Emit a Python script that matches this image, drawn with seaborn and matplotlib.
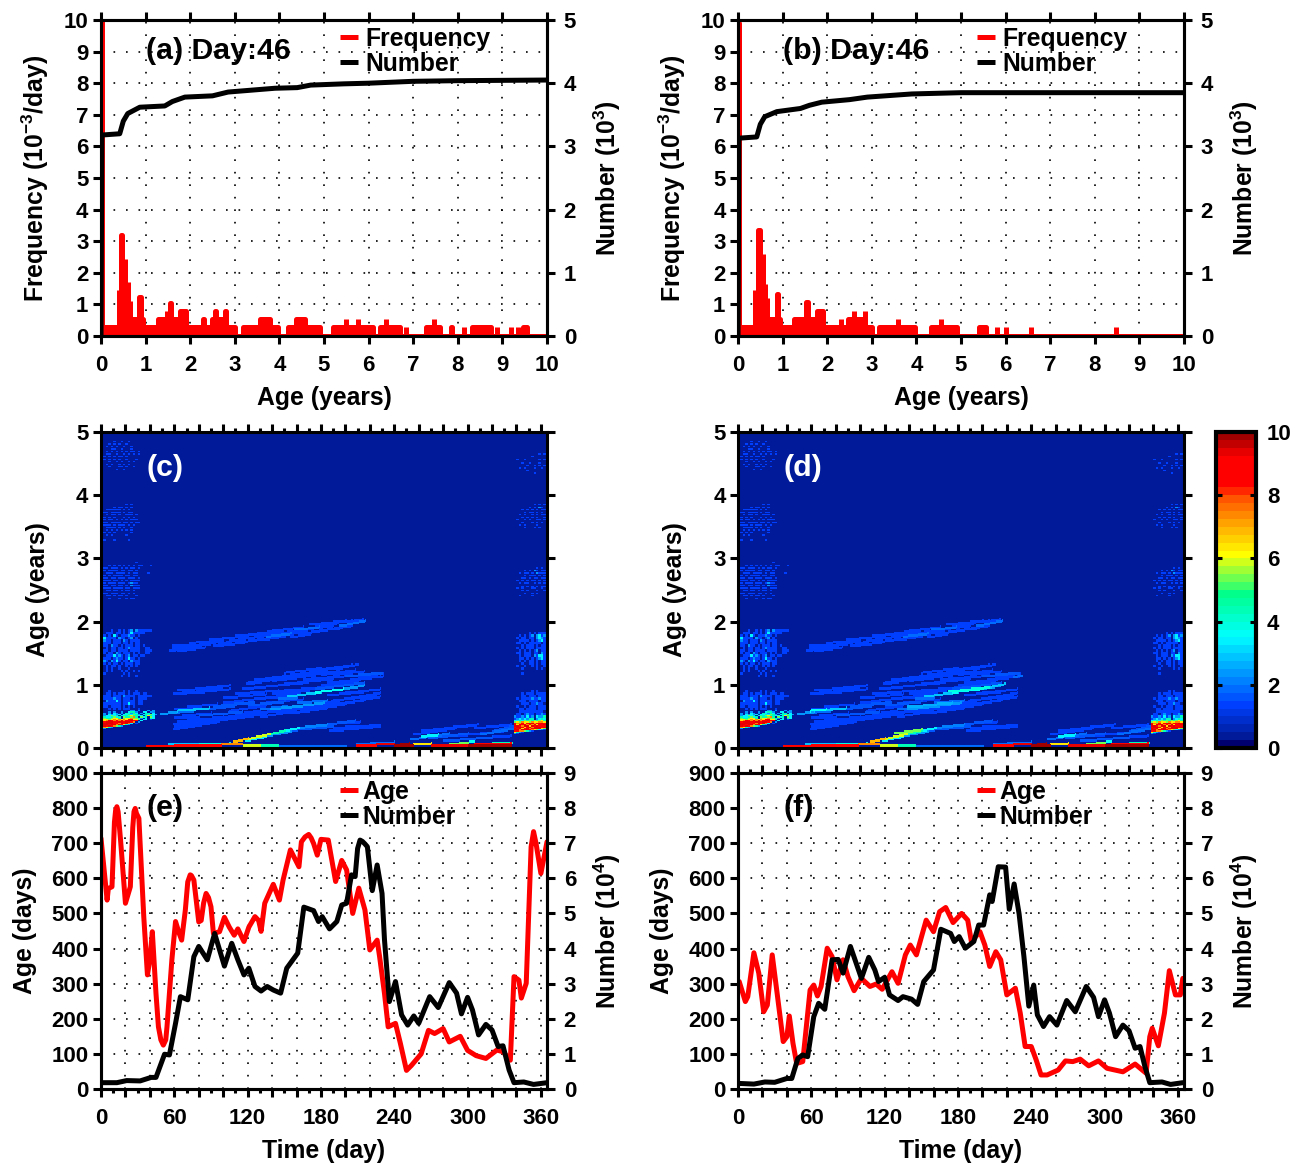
import numpy as np
import seaborn as sns
from matplotlib import pyplot as plt
from matplotlib.colors import LinearSegmentedColormap
from matplotlib.lines import Line2D

W, H = 1301, 1163

# (a)/(b) age spectrum: runs of (first age, last age, frequency)
freq_runs_a = [
    (0, 10, 0), (0, 0.02, 10.5), (0.05, 3.0, 0.27), (0.41, 0.41, 1.45), (0.44, 0.47, 3.2), (0.54, 0.54, 2.45),
    (0.6, 0.6, 1.7), (0.65, 0.65, 1.1), (0.65, 0.95, 0.54), (0.85, 0.9, 1.25),
    (1.27, 1.9, 0.54), (1.47, 1.47, 0.8), (1.55, 1.58, 1.03),
    (1.78, 1.9, 0.8), (2.28, 2.3, 0.54), (2.48, 2.8, 0.54),
    (2.55, 2.58, 0.8), (2.78, 2.8, 0.8), (3.18, 3.97, 0.27),
    (3.57, 3.78, 0.54), (4.2, 4.9, 0.27), (4.38, 4.58, 0.54),
    (5.2, 6.09, 0.27), (5.5, 5.5, 0.54), (5.76, 5.76, 0.54),
    (6.25, 6.7, 0.27), (6.4, 6.4, 0.54), (6.83, 6.83, 0.27), (7.28, 7.6, 0.27),
    (7.47, 7.47, 0.54), (7.85, 7.88, 0.27), (8.15, 8.15, 0.27), (8.32, 8.75, 0.27),
    (8.88, 8.88, 0.27), (9.2, 9.2, 0.27), (9.34, 9.34, 0.27), (9.47, 9.55, 0.27),
]
freq_runs_b = [
    (0, 10, 0), (0, 0.02, 9.9), (0.04, 3.0, 0.27), (0.38, 0.38, 1.45), (0.44, 0.5, 3.35), (0.55, 0.55, 2.6),
    (0.6, 0.6, 1.65), (0.65, 0.65, 1.2), (0.6, 0.95, 0.54), (0.87, 0.9, 1.33),
    (1.25, 1.9, 0.54), (1.52, 1.57, 1.07), (1.78, 1.9, 0.8),
    (2.3, 2.3, 0.54), (2.47, 2.85, 0.54), (2.6, 2.6, 0.8),
    (2.85, 2.85, 0.8), (3.17, 3.97, 0.27), (3.58, 3.58, 0.54),
    (4.32, 4.9, 0.27), (4.56, 4.56, 0.54), (5.4, 5.55, 0.27),
    (5.8, 5.8, 0.27), (6.0, 6.0, 0.27), (6.58, 6.58, 0.27), (8.47, 8.47, 0.27),
]

# (a)/(b) number curves, in 10^3
num_age_a = [0, 0.02, 0.42, 0.5, 0.6, 0.87, 1.43, 1.6, 1.88, 2.5, 2.85, 3.9, 4.4, 4.7, 5.45, 6, 7, 8, 10]
num_val_a = [0, 3.18, 3.2, 3.4, 3.52, 3.62, 3.64, 3.71, 3.78, 3.8, 3.86, 3.92, 3.93, 3.97, 3.99, 4.0, 4.03, 4.04, 4.05]
num_age_b = [0, 0.02, 0.42, 0.5, 0.6, 0.87, 1.4, 1.6, 1.88, 2.5, 2.9, 3.9, 5, 6, 10]
num_val_b = [0, 3.13, 3.15, 3.35, 3.47, 3.55, 3.6, 3.65, 3.7, 3.74, 3.78, 3.83, 3.85, 3.85, 3.85]

# (e) mean age and number against day of year
age_day_e = [0, 5, 6, 9, 11, 12, 13, 14, 16, 20, 24, 26, 27, 28, 29, 31, 35, 38, 40, 42, 45, 47, 49, 51, 53, 54, 58,
             61, 64, 66, 69, 71, 73, 74, 76, 80, 82, 84, 86, 88, 90, 92, 97, 101, 105, 109, 112, 117, 121, 126, 129,
             131, 134, 141, 146, 149, 155, 162, 164, 167, 170, 172, 174, 177, 180, 186, 192, 197, 201, 206, 211,
             216, 220, 226, 228, 232, 235, 241, 245, 250, 254, 262, 268, 273, 280, 285, 294, 300, 307, 315, 324,
             329, 335, 338, 342, 344, 348, 352, 354, 356, 360, 365]
age_val_e = [714, 538, 571, 576, 760, 795, 804, 790, 709, 529, 576, 745, 790, 799, 785, 771, 491, 325, 368, 448, 272,
             177, 140, 125, 140, 177, 368, 477, 443, 424, 509, 590, 610, 608, 595, 476, 480, 530, 557, 545, 519,
             443, 448, 489, 461, 438, 456, 420, 461, 491, 480, 449, 529, 583, 538, 595, 681, 633, 704, 718, 725,
             715, 699, 666, 711, 709, 591, 651, 624, 500, 572, 510, 396, 424, 377, 272, 177, 187, 130, 53, 67, 100,
             167, 158, 172, 134, 150, 110, 95, 87, 111, 106, 82, 320, 310, 259, 301, 690, 733, 700, 614, 704]
num_day_e = [0, 13, 21, 32, 41, 45, 52, 56, 61, 65, 71, 76, 80, 87, 93, 101, 107, 112, 117, 121, 126, 131, 136,
             141, 147, 152, 161, 166, 174, 178, 181, 187, 193, 197, 201, 205, 208, 210, 212, 214, 216, 218, 222,
             226, 230, 232, 236, 241, 246, 251, 256, 260, 269, 276, 285, 291, 295, 300, 304, 309, 315, 320, 325,
             329, 334, 338, 346, 354, 365]
num_val_e = [0.18, 0.18, 0.24, 0.23, 0.33, 0.33, 0.99, 0.97, 1.87, 2.63, 2.54, 3.77, 4.06, 3.68, 4.43, 3.5, 4.15,
             3.68, 3.25, 3.44, 2.92, 2.79, 2.92, 2.82, 2.73, 3.44, 3.87, 5.18, 5.08, 4.77, 4.91, 4.56, 4.77, 5.24,
             5.29, 6.1, 6.05, 6.85, 7.09, 7.05, 6.98, 6.9, 5.65, 6.38, 5.57, 4.25, 2.49, 3.06, 2.11, 1.82, 2.08,
             1.87, 2.63, 2.32, 3.03, 2.73, 2.14, 2.61, 2.25, 1.54, 1.84, 1.68, 1.21, 1.23, 0.54, 0.18, 0.2, 0.13,
             0.18]

# (f)
age_day_f = [1, 6, 8, 13, 17, 21, 24, 28, 32, 37, 40, 42, 45, 48, 53, 59, 62, 65, 68, 73, 77, 81, 86, 90, 95, 101,
             108, 113, 118, 126, 131, 137, 141, 146, 154, 160, 165, 170, 176, 183, 188, 191, 198, 202, 206, 211,
             215, 220, 227, 231, 235, 240, 244, 248, 253, 262, 268, 274, 280, 287, 295, 302, 315, 325, 334, 337,
             339, 344, 349, 353, 358, 362, 364]
age_val_f = [306, 249, 263, 388, 330, 220, 239, 382, 273, 135, 149, 208, 130, 73, 78, 282, 296, 265, 292, 401, 377,
             311, 368, 320, 280, 315, 292, 299, 284, 334, 301, 382, 410, 382, 481, 448, 505, 517, 474, 500, 481,
             420, 448, 410, 349, 391, 368, 268, 287, 216, 121, 121, 83, 40, 40, 54, 80, 78, 85, 66, 80, 59, 49,
             71, 45, 149, 173, 123, 216, 337, 268, 268, 315]
num_day_f = [0, 13, 22, 30, 40, 44, 49, 53, 57, 62, 66, 71, 77, 82, 86, 92, 101, 107, 112, 115, 120, 124, 131, 135,
             142, 147, 152, 160, 166, 174, 177, 181, 186, 193, 197, 201, 206, 208, 213, 219, 222, 226, 230, 234,
             238, 242, 245, 250, 255, 261, 269, 276, 285, 291, 295, 300, 304, 309, 315, 320, 325, 329, 333, 337,
             347, 354, 364]
num_val_f = [0.16, 0.14, 0.2, 0.19, 0.3, 0.3, 0.87, 0.97, 0.92, 2.06, 2.44, 2.27, 3.68, 3.69, 3.3, 4.06, 3.15, 3.75,
             3.39, 3.06, 3.18, 2.68, 2.52, 2.63, 2.56, 2.41, 3.06, 3.39, 4.55, 4.43, 4.2, 4.34, 4.01, 4.2, 4.67,
             4.67, 5.53, 5.34, 6.33, 6.32, 5.12, 5.84, 5.0, 3.77, 2.36, 2.96, 2.11, 1.78, 2.06, 1.82, 2.52, 2.2,
             2.92, 2.61, 2.06, 2.54, 2.16, 1.49, 1.82, 1.66, 1.16, 1.21, 0.64, 0.18, 0.2, 0.13, 0.18]

# (c)/(d) heat map, streaks: (day0, age0, day1, age1, level)
streaks_high = [
    (56, 1.52, 70, 1.58, 1), (58, 1.60, 75, 1.62, 1), (66, 1.56, 82, 1.60, 1), (72, 1.65, 88, 1.68, 1),
    (80, 1.62, 100, 1.68, 1), (88, 1.70, 110, 1.74, 1), (96, 1.64, 112, 1.70, 1), (105, 1.68, 125, 1.74, 1),
    (110, 1.76, 130, 1.80, 1), (118, 1.72, 140, 1.78, 1), (128, 1.80, 150, 1.86, 1), (135, 1.75, 155, 1.80, 1.5),
    (140, 1.84, 165, 1.90, 1), (150, 1.78, 168, 1.83, 1), (158, 1.86, 178, 1.90, 1.5), (165, 1.80, 178, 1.84, 1),
    (175, 1.90, 192, 1.95, 1), (170, 1.94, 200, 2.00, 1), (185, 1.86, 195, 1.88, 1), (195, 1.92, 216, 2.0, 1.5),
    (200, 1.98, 214, 2.02, 1), (58, 1.56, 78, 1.60, 1), (62, 1.52, 85, 1.58, 1), (70, 1.6, 90, 1.64, 1),
    (82, 1.66, 100, 1.70, 1), (92, 1.60, 118, 1.66, 1), (100, 1.72, 120, 1.76, 1), (112, 1.66, 135, 1.72, 1),
    (125, 1.76, 145, 1.82, 1), (130, 1.70, 150, 1.75, 1), (145, 1.80, 165, 1.86, 1), (155, 1.74, 172, 1.80, 1),
    (165, 1.86, 190, 1.92, 1), (172, 1.82, 192, 1.88, 1), (180, 1.95, 205, 2.0, 1), (190, 1.88, 205, 1.92, 1),
]
streaks_mid = [
    (59, 0.84, 80, 0.88, 1), (62, 0.90, 90, 0.94, 1), (75, 0.86, 105, 0.92, 1), (85, 0.94, 105, 0.98, 1),
    (119, 1.0, 150, 1.10, 1), (125, 1.06, 160, 1.14, 1), (140, 1.05, 175, 1.14, 1), (150, 1.18, 180, 1.25, 1),
    (160, 1.12, 195, 1.21, 1), (170, 1.20, 205, 1.30, 1), (180, 1.15, 208, 1.22, 1), (195, 1.25, 210, 1.31, 1),
    (115, 0.92, 150, 0.99, 1), (130, 0.95, 165, 1.02, 1), (150, 1.0, 190, 1.08, 1), (165, 1.07, 205, 1.13, 1),
    (185, 1.02, 231, 1.12, 1), (200, 1.12, 230, 1.18, 1.2), (205, 1.07, 228, 1.12, 1), (100, 0.78, 135, 0.84, 1),
    (110, 0.84, 145, 0.90, 1), (140, 0.84, 170, 0.89, 1), (150, 0.90, 190, 0.96, 1), (175, 0.92, 215, 1.02, 1.3),
    (145, 0.76, 160, 0.78, 1.5), (152, 0.80, 180, 0.87, 2.5), (175, 0.87, 198, 0.92, 3.2), (198, 0.92, 215, 0.98, 2),
    (200, 0.86, 228, 0.92, 1), (185, 0.82, 215, 0.88, 1), (59, 0.55, 75, 0.58, 1.5), (48, 0.52, 62, 0.56, 2),
    (62, 0.58, 78, 0.60, 2.5), (75, 0.60, 88, 0.62, 2.5), (85, 0.60, 110, 0.66, 1.2), (92, 0.65, 125, 0.71, 1.2),
    (105, 0.58, 135, 0.66, 1), (120, 0.66, 150, 0.72, 1.2), (135, 0.70, 165, 0.76, 1), (130, 0.60, 152, 0.65, 1.5),
    (138, 0.60, 182, 0.70, 2), (160, 0.70, 185, 0.74, 1.5), (165, 0.62, 190, 0.68, 1), (190, 0.74, 225, 0.82, 1),
    (59, 0.28, 95, 0.40, 1), (59, 0.36, 90, 0.42, 1), (70, 0.42, 100, 0.48, 1), (60, 0.46, 80, 0.48, 1),
    (90, 0.40, 125, 0.50, 1), (95, 0.46, 130, 0.54, 1), (80, 0.50, 115, 0.56, 1.2), (120, 0.52, 160, 0.62, 1),
    (125, 0.54, 160, 0.60, 1), (160, 0.62, 195, 0.72, 1), (170, 0.66, 228, 0.86, 1),
    (60, 0.32, 90, 0.40, 1), (62, 0.40, 85, 0.44, 1), (66, 0.50, 90, 0.54, 1), (90, 0.44, 115, 0.50, 1),
    (105, 0.46, 135, 0.52, 1), (75, 0.38, 100, 0.44, 1), (110, 0.52, 130, 0.58, 1), (130, 0.48, 155, 0.56, 1),
    (140, 0.56, 170, 0.62, 1), (155, 0.54, 185, 0.62, 1), (170, 0.60, 200, 0.68, 1), (185, 0.66, 215, 0.74, 1),
    (200, 0.70, 228, 0.80, 1), (100, 0.70, 125, 0.76, 1), (115, 0.74, 145, 0.80, 1), (125, 0.76, 160, 0.84, 1),
    (145, 0.88, 175, 0.94, 1), (160, 0.90, 195, 0.98, 1), (180, 0.98, 210, 1.04, 1), (120, 1.02, 145, 1.08, 1),
    (140, 1.10, 170, 1.18, 1), (155, 1.14, 185, 1.20, 1), (175, 1.22, 200, 1.27, 1), (190, 1.15, 215, 1.2, 1),
    (210, 1.12, 231, 1.17, 1), (66, 0.86, 95, 0.91, 1), (80, 0.92, 100, 0.96, 1), (60, 0.60, 80, 0.64, 1),
    (70, 0.64, 95, 0.68, 1),
]
streaks_low = [
    (108, 0.08, 120, 0.14, 6.5), (120, 0.13, 138, 0.21, 5.5), (138, 0.21, 150, 0.26, 4), (150, 0.26, 162, 0.31, 3),
    (162, 0.31, 185, 0.36, 1.8), (185, 0.36, 208, 0.42, 1.2), (118, 0.10, 135, 0.17, 3), (135, 0.18, 155, 0.25, 2),
    (155, 0.27, 190, 0.33, 1.2), (190, 0.31, 228, 0.35, 1), (187, 0.26, 228, 0.33, 1), (200, 0.38, 212, 0.40, 1),
    (37, 0.01, 60, 0.02, 8), (60, 0.02, 80, 0.02, 8.8), (80, 0.03, 98, 0.03, 8), (98, 0.04, 115, 0.05, 7),
    (115, 0.04, 130, 0.03, 5.5), (130, 0.03, 145, 0.02, 4), (145, 0.02, 200, 0.01, 1.5), (55, 0.04, 80, 0.04, 2.5),
    (80, 0.05, 105, 0.06, 3.5), (209, 0.02, 225, 0.03, 8), (225, 0.04, 240, 0.05, 9), (240, 0.03, 255, 0.03, 9.5),
    (245, 0.05, 252, 0.06, 9.5), (255, 0.05, 270, 0.06, 6), (270, 0.03, 300, 0.03, 9), (285, 0.05, 300, 0.07, 5),
    (296, 0.07, 305, 0.09, 3.2), (300, 0.03, 335, 0.03, 9.5), (305, 0.05, 335, 0.06, 8), (320, 0.07, 336, 0.07, 4),
    (209, 0.05, 240, 0.08, 1.5), (253, 0.12, 285, 0.22, 1.5), (255, 0.20, 290, 0.30, 1), (262, 0.26, 300, 0.34, 1),
    (268, 0.14, 300, 0.22, 1.2), (262, 0.17, 276, 0.20, 3), (280, 0.10, 320, 0.16, 1.2), (290, 0.18, 330, 0.26, 1),
    (305, 0.30, 335, 0.36, 1), (310, 0.20, 338, 0.30, 1.5), (300, 0.13, 335, 0.18, 1), (320, 0.25, 338, 0.34, 1.2),
    (288, 0.32, 308, 0.36, 1),
]
streaks_extra_d = [
    (172, 0.88, 205, 0.95, 3.5), (205, 0.95, 218, 1.0, 2.5), (138, 0.64, 175, 0.70, 2.2), (59, 0.58, 72, 0.60, 3.2),
    (225, 1.10, 232, 1.14, 1.5), (128, 0.22, 150, 0.28, 5),
]

# patches of speckle, one digit per cell: rows go downward in age, 2 days wide each
left_lo = [
    "...1.....1.1..1........", "..11.1.111.1.111.11....", "1111.111.21111.111111..", "11111211.111.1.1111....",
    "1.211131.11111.11......", "11111111.11311.11......", "111.1111.1.1.1.........", "...1.1.1.111...1.......",
]
left_hot = [
    "............22.2...2.2.", "...2.2..2..3442..33.22.", "12.2.32.2.43243.2.44.3.", "22.32323.3343542.343532",
    "3233534.344564433.4643.", "34334534.544574.534.53.", "45445664.56675542.3.43.", "5665676767688664.33.1..",
    "667987879788988.3......", "78999889989987.2.......", "8999988798973.1........", "999899798642...........",
    "998987542..............", "87642..................", "42.....................",
]
left_b1 = [
    "....1..1.1.12.2111111.", "1.111.11.1.1311111....", "21.1.31.111211.1......", "131111.211.12.1.......",
    "3211.111.21.1111......", "2111.111.11.1.11......", "111.211.1.111.11.1....", "1.1.11.11.121111..11..",
    "111.11.1111.1111..111.", "21.11.21.111.1.1..11..", "1.1113121.12.11.11....", "1111.1211.1311.1......",
    "121.2131.11.2111......", "11.1.11.1.111.11......", "1.1.11.1..1.1.1.......", "..1.1..1...1..........",
    "1.1.1...1.1..1.1......", ".1.......1.1..........", "........1..1..1.......",
]
left_b2 = [
    "..............1.......", "...1.1.1.1.1.1.11...1.", "111.111.1.1.11.1......", "11.1111.11.11.1.......",
    "1.111.1111.1.11....1..", "11.1.1111.11.11.......", "111.11.111.111.1......", "1111.11.1.1.1111......",
    "11.111.111.1211.......", "111.11.11.1.2111......", "2111.1111.11.111......", "1.11.11.1.11.1........",
    "111.111.11.1.1........", "..11.1.11.1...1.......", "1..1...1..1.11........",
]
left_b3 = [
    "..........1.1........", ".....1.11.1.1.........", "..111111.1.1..........", ".11.1111.1.11.........",
    "1.1.11.1..111.1.......", ".1.1.1...1.1.1........", "11.11.1.1.1.111.......", "111.1111.11.1.11......",
    "1111.1.111.1.1........", "1.1111.1.1..1.........", "..1.1.1.1.1.1.........", "11.1.1......1.........",
    "1.1.1.....1...........", "......................", ".1...1.....1..........",
]
left_b4 = [
    ".....1..1..1........", "...1.1.1..1.........", "..1.1.1..1..1.......", "....11..1...1.......",
    "1.1.1.1.1.1.11.1....", "1.11..1..1.1.1.1....", "11.1.1.11.1.........", ".1.1.1.1..1...1.....",
    "1..1..1.1..1.1......", "..1.1..1.1.1........", "...1...11.1..1......", "......1..1..........",
]
right_lo = [
    ".......1.1...", "...1.111.1111", "...11.111.111", ".1.1111211211", "..111.1111.11", "...111.11211.",
    ".1..1.111.111", "..11.1111.111", "..1111111111.", ".11.1211.1121", "21121312.3224", "12323244.2343",
]
right_hot = [
    "3343545454564", "5657665766776", "8778688978898", "9698978796889", "9987996989888", "8998689799989",
    "9896897899965", "9979898765321", "88775421.....", "6421.........", "21...........",
]
right_b1 = [
    "......1.1.111", "..1.1.12.2312", ".1.11.11.2321", "..1111.1.1231", ".11.1.11111.1", "...1.111.1.11",
    ".1.1.111.1111", "..1.1.1.12.11", ".11.111.11.21", "..1.111.21331", "..11.1.1.1231", "..1.1.11.1.11",
    "...1..11.1.11", ".1..1..1.1..1", "...1.....1.1.", ".............", "...1.........",
]
right_b2 = [
    ".........1.1.", "....1.1.21.11", "..1.11.1.2111", "....1.111.1.1", "...11.1.11.11", ".1.1.1.11.1.1",
    "..1.11..1.1.1", "...1.1.1.1.11", ".1.1...11..1.", "...1.1...1..1", "....1..1.1...", "..1....1.....",
]
right_b3 = [
    "........1.1.1", "......1.1.21.", "...1.1.1.1.11", "....1.11.1.1.", "..1.1..1.1.11", "...1.1.1.1..1",
    ".1..1.1..11.1", "...1...1.1.1.", "..1.1....1...", "....1...1.1..",
]
right_b4 = [
    "..........1.1", ".......1.....", ".1..1.....1.1", "...1..1...1..", ".....1..1.1.1", "..1.1...1..1.",
    ".....1.......", "........1....",
]
# (rows, first day, top age, age step)
speckle_blocks = [
    (left_lo, 0, 0.88, 0.04), (left_hot, 0, 0.58, 0.02), (left_b1, 0, 1.84, 0.04), (left_b2, 0, 2.92, 0.04),
    (left_b3, 0, 3.84, 0.04), (left_b4, 0, 4.84, 0.04), (right_lo, 338, 0.88, 0.04), (right_hot, 338, 0.42, 0.02),
    (right_b1, 338, 1.80, 0.04), (right_b2, 338, 2.83, 0.04), (right_b3, 338, 3.84, 0.04), (right_b4, 338, 4.63, 0.04),
]

cbar_nodes = [0, 0.3, 1.3, 3.5, 5.0, 5.05, 6.15, 7.2, 8.0, 8.4, 9.3, 10]
cbar_colors = ["#000070", "#001ea0", "#0040ff", "#00ffff", "#00ff80", "#30ff70", "#ffff00", "#ffa000", "#ff5000",
               "#ff0000", "#ff0000", "#a00000"]

RED = "#ff0000"
AGE_STEP = 0.02
LW = 2.2
sns.set_theme(style="ticks")
plt.rcParams["font.family"] = ["Liberation Sans", "DejaVu Sans"]
plt.rcParams["font.weight"] = "bold"
plt.rcParams["axes.labelweight"] = "bold"
plt.rcParams["text.color"] = "black"
plt.rcParams["axes.labelcolor"] = "black"
plt.rcParams["xtick.color"] = "black"
plt.rcParams["ytick.color"] = "black"
plt.rcParams["mathtext.fontset"] = "custom"
plt.rcParams["mathtext.bf"] = "Liberation Sans:bold"
plt.rcParams["mathtext.rm"] = "Liberation Sans:bold"
plt.rcParams["mathtext.default"] = "bf"

fig = plt.figure(figsize=(W / 100, H / 100), dpi=100)


def add_panel(left, top, width=446, height=316):
    return fig.add_axes([left / W, 1 - (top + height) / H, width / W, height / H])


def style_axis(ax, right=False):
    for sp in ax.spines.values():
        sp.set_visible(True)
        sp.set_linewidth(LW)
        sp.set_color("black")
    ax.tick_params(which="major", length=6, width=LW, color="black", labelsize=16, pad=3)
    ax.tick_params(which="minor", length=3, width=LW, color="black")
    ax.patch.set_alpha(1 if not right else 0)


def dotted_grid(ax):
    ax.grid(True, which="major", color="black", linewidth=1.2, linestyle=(0, (1, 6.5)))


def draw_legend(ax, labels, x, textpad):
    handles = [Line2D([], [], color=RED, lw=3.6, solid_capstyle="butt"),
               Line2D([], [], color="black", lw=3.6, solid_capstyle="butt")]
    ax.legend(handles, labels, loc="upper left", bbox_to_anchor=(x, 0.979), frameon=False, fontsize=17.8,
              handlelength=0.73, handletextpad=textpad, labelspacing=0.06, borderpad=0, borderaxespad=0)


def plot_age_panel(left, runs, num_age, num_val, label):
    ax = add_panel(left, 20)
    starts = [r[0] for r in runs]
    ends = [r[1] for r in runs]
    levels = [r[2] for r in runs]
    ax.bar(starts, levels, width=np.array(ends) - np.array(starts), align="edge", color=RED, edgecolor=RED,
           linewidth=3.6, joinstyle="round")
    ax.set_xlim(0, 10)
    ax.set_ylim(0, 10)
    ax.set_xticks(range(0, 11))
    ax.set_yticks(range(0, 11))
    ax.tick_params(top=True)
    style_axis(ax)
    dotted_grid(ax)
    ax.tick_params(axis="x", pad=8)
    ax.set_xlabel("Age (years)", fontsize=17.8, fontweight="bold")
    ax.xaxis.set_label_coords(0.5, -0.158)
    ax.set_ylabel(r"Frequency (10$^{-3}$/day)", fontsize=17.8, fontweight="bold")
    ax.yaxis.set_label_coords(-0.112, 0.5)
    ax.text(0.101, 0.902, label, transform=ax.transAxes, fontsize=21.8, va="center", ha="left")

    tw = ax.twinx()
    sns.lineplot(x=num_age, y=num_val, ax=tw, color="black", linewidth=3.6, estimator=None, sort=False)
    tw.set_ylim(0, 5)
    tw.set_yticks(range(0, 6))
    style_axis(tw, right=True)
    tw.grid(False)
    tw.tick_params(axis="y", pad=6)
    tw.set_ylabel(r"Number (10$^{3}$)", fontsize=17.8, fontweight="bold")
    tw.yaxis.set_label_coords(1.10, 0.5)
    draw_legend(tw, ["Frequency", "Number"], 0.536, 0.28)


def build_heat(streak_sets):
    grid = np.full((250, 365), 0.3)
    for streaks in streak_sets:
        for d0, a0, d1, a1, level in streaks:
            for day in range(int(d0), int(d1) + 1):
                age = a0 + (a1 - a0) * (day - d0) / max(d1 - d0, 1)
                row = int(age / AGE_STEP)
                col = min(day, 364)
                grid[row:row + 2, col] = np.maximum(grid[row:row + 2, col], level + 0.3)
    for rows, day0, age_top, step in speckle_blocks:
        for i, chars in enumerate(rows):
            r0 = int(round((age_top - i * step) / AGE_STEP))
            # above two years the speckle is thin dashes, below it fills the cell
            tall = int(round(step / AGE_STEP)) if age_top < 2 else 1
            for j, ch in enumerate(chars):
                if ch != ".":
                    d = day0 + 2 * j
                    grid[r0:r0 + tall, d:d + 2] = np.maximum(grid[r0:r0 + tall, d:d + 2], int(ch) + 0.3)
    return grid


cmap = LinearSegmentedColormap.from_list("jet_bar", [(n / 10, c) for n, c in zip(cbar_nodes, cbar_colors)], N=40)


def plot_heat_panel(left, streak_sets, label, cax=None):
    ax = add_panel(left, 432)
    grid = build_heat(streak_sets)
    sns.heatmap(grid, ax=ax, cmap=cmap, vmin=0, vmax=10, xticklabels=False, yticklabels=False, rasterized=True,
                cbar=cax is not None, cbar_ax=cax, cbar_kws={"ticks": list(range(0, 11, 2))} if cax is not None else None)
    ax.set_xlim(0, 365)
    ax.set_ylim(0, 250)
    ax.set_xticks(np.arange(0, 361, 20))
    ax.set_xticks(np.arange(10, 361, 20), minor=True)
    ax.set_yticks(np.arange(0, 251, 50))
    ax.set_yticklabels([str(v) for v in range(0, 6)], rotation=0)
    ax.set_xticklabels([])
    ax.tick_params(which="both", top=True, right=True, bottom=True, left=True)
    style_axis(ax)
    ax.set_ylabel("Age (years)", fontsize=17.8, fontweight="bold")
    ax.yaxis.set_label_coords(-0.115, 0.5)
    ax.text(0.101, 0.886, label, transform=ax.transAxes, fontsize=21.8, va="center", ha="left", color="white")
    if cax is not None:
        cbar = ax.collections[0].colorbar
        cbar.outline.set_linewidth(3)
        cbar.outline.set_edgecolor("black")
        cax.set_axisbelow(False)
        cax.tick_params(direction="in", length=4, width=LW, color="black", left=True, right=True, labelright=True,
                        labelsize=16, pad=8)


def plot_time_panel(left, age_day, age_val, num_day, num_val, label):
    ax = add_panel(left, 773)
    sns.lineplot(x=age_day, y=age_val, ax=ax, color=RED, linewidth=3.6, estimator=None, sort=False)
    ax.set_xlim(0, 365)
    ax.set_ylim(0, 900)
    ax.set_xticks(np.arange(0, 361, 20))
    ax.set_xticks(np.arange(10, 361, 20), minor=True)
    ax.set_xticklabels([str(v) if v % 60 == 0 else "" for v in range(0, 361, 20)])
    ax.set_yticks(range(0, 901, 100))
    ax.tick_params(which="both", top=True)
    style_axis(ax)
    dotted_grid(ax)
    ax.tick_params(axis="x", pad=8)
    ax.set_xlabel("Time (day)", fontsize=17.8, fontweight="bold")
    ax.xaxis.set_label_coords(0.5, -0.158)
    ax.set_ylabel("Age (days)", fontsize=17.8, fontweight="bold")
    ax.yaxis.set_label_coords(-0.143, 0.5)
    ax.text(0.101, 0.890, label, transform=ax.transAxes, fontsize=21.8, va="center", ha="left")

    tw = ax.twinx()
    sns.lineplot(x=num_day, y=num_val, ax=tw, color="black", linewidth=3.6, estimator=None, sort=False)
    tw.set_ylim(0, 9)
    tw.set_yticks(range(0, 10))
    style_axis(tw, right=True)
    tw.grid(False)
    tw.tick_params(axis="y", pad=6)
    tw.set_ylabel(r"Number (10$^{4}$)", fontsize=17.8, fontweight="bold")
    tw.yaxis.set_label_coords(1.10, 0.5)
    draw_legend(tw, ["Age", "Number"], 0.536, 0.16)


plot_age_panel(101, freq_runs_a, num_age_a, num_val_a, "(a) Day:46")
plot_age_panel(738, freq_runs_b, num_age_b, num_val_b, "(b) Day:46")

cax = add_panel(1216, 432, width=40)
plot_heat_panel(101, [streaks_high, streaks_mid, streaks_low], "(c)")
plot_heat_panel(738, [streaks_high, streaks_mid, streaks_low, streaks_extra_d], "(d)", cax=cax)

plot_time_panel(101, age_day_e, age_val_e, num_day_e, num_val_e, "(e)")
plot_time_panel(738, age_day_f, age_val_f, num_day_f, num_val_f, "(f)")

fig.savefig("out.png", dpi=100, facecolor="white")
